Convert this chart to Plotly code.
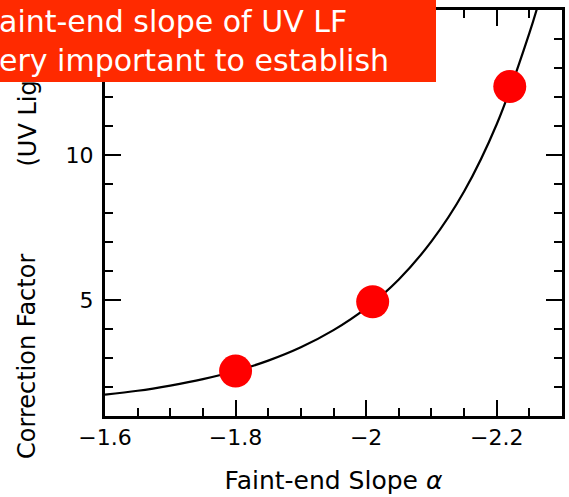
import plotly.graph_objects as go

# Measured correction factors at three faint-end slopes
alpha_pts = [-1.80, -2.01, -2.22]
cf_pts = [2.55, 4.94, 12.36]

# Model curve: correction factor as a function of faint-end slope
alpha_curve = [-1.60, -1.65, -1.70, -1.75, -1.80, -1.85, -1.90, -1.95,
               -2.00, -2.05, -2.10, -2.15, -2.20, -2.25, -2.27]
cf_curve = [1.74, 1.87, 2.05, 2.27, 2.55, 2.91, 3.37, 3.96,
            4.72, 5.71, 7.02, 8.74, 11.06, 14.2, 15.7]

x_title = "Faint-end Slope <i>α</i>"
y_title_main = "Correction Factor"
y_title_unit = "(UV Light)"
banner_lines = ["aint-end slope of UV LF", "ery important to establish"]

W, H = 569, 497
L, R, T, B = 105, 4, 10, 81
plot_w = W - L - R
plot_h = H - T - B

AXFONT = "DejaVu Sans"
BANNER_FONT = "DejaVu Sans"


def px_x(px):
    """Page x pixel -> paper coordinate."""
    return (px - L) / plot_w


def px_y(py):
    """Page y pixel (from top) -> paper coordinate."""
    return (H - B - py) / plot_h


fig = go.Figure()

fig.add_trace(go.Scatter(
    x=alpha_curve, y=cf_curve, mode="lines",
    line=dict(color="black", width=2.2, shape="spline", smoothing=1.0),
    hoverinfo="skip", showlegend=False,
))

fig.add_trace(go.Scatter(
    x=alpha_pts, y=cf_pts, mode="markers",
    marker=dict(color="#FF0000", size=33, line=dict(width=0)),
    showlegend=False, cliponaxis=False,
))

tick_common = dict(
    showgrid=False, zeroline=False,
    showline=True, linecolor="black", linewidth=3,
    mirror="ticks", ticks="inside", ticklen=16, tickwidth=2, tickcolor="black",
    tickfont=dict(family=AXFONT, size=22, color="black"),
)

fig.update_xaxes(
    range=[-1.6, -2.3], autorange=False,
    tick0=0, dtick=0.2,
    minor=dict(dtick=0.05, ticks="inside", ticklen=8, tickwidth=2, tickcolor="black"),
    title=dict(text=x_title, font=dict(family=AXFONT, size=25, color="black"), standoff=23),
    **tick_common,
)
fig.update_yaxes(
    range=[1, 15], autorange=False,
    tick0=0, dtick=5,
    minor=dict(dtick=1, ticks="inside", ticklen=8, tickwidth=2, tickcolor="black"),
    ticklabelstandoff=4,
    **tick_common,
)

# Vertical axis label, in two pieces (drawn before the banner so it sits underneath)
fig.add_annotation(
    text=y_title_main, textangle=-90,
    xref="paper", yref="paper",
    x=px_x(27), xanchor="center",
    y=px_y(461), yanchor="bottom",
    showarrow=False,
    font=dict(family=AXFONT, size=24, color="black"),
)
fig.add_annotation(
    text=y_title_unit, textangle=-90,
    xref="paper", yref="paper",
    x=px_x(27), xanchor="center",
    y=px_y(169), yanchor="bottom",
    showarrow=False,
    font=dict(family=AXFONT, size=24, color="black"),
)

# Red headline banner in the top-left corner
fig.add_annotation(
    text="<br>".join(banner_lines),
    xref="paper", yref="paper",
    x=px_x(-2), xanchor="left",
    y=px_y(0), yanchor="top",
    width=437, height=82, align="left", valign="middle",
    bgcolor="#FF2A00", borderpad=0, borderwidth=0,
    showarrow=False,
    font=dict(family=BANNER_FONT, size=30, color="white"),
)

fig.update_layout(
    width=W, height=H,
    margin=dict(l=L, r=R, t=T, b=B, pad=0),
    paper_bgcolor="white", plot_bgcolor="white",
    showlegend=False,
)

fig.write_html("out.html")
